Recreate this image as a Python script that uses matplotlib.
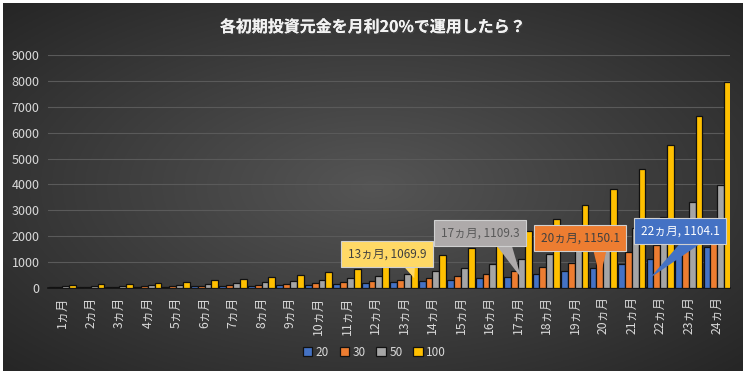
import numpy as np
import matplotlib.pyplot as plt
import matplotlib.patheffects as pe

plt.rcParams['font.family'] = ['Noto Sans CJK JP', 'DejaVu Sans']

months = ['%dヵ月' % m for m in range(1, 25)]

v20 = [24.0, 28.8, 34.6, 41.5, 49.8, 59.7, 71.7, 86.0, 103.2, 123.8, 148.6, 178.3,
       214.0, 256.8, 308.1, 369.8, 443.7, 532.5, 639.0, 766.8, 920.1, 1104.1, 1324.9, 1589.9]
v30 = [36.0, 43.2, 51.8, 62.2, 74.6, 89.6, 107.5, 129.0, 154.8, 185.8, 222.9, 267.5,
       321.0, 385.2, 462.2, 554.7, 665.6, 798.7, 958.4, 1150.1, 1380.2, 1656.2, 1987.4, 2384.9]
v50 = [60.0, 72.0, 86.4, 103.7, 124.4, 149.3, 179.2, 215.0, 258.0, 309.6, 371.5, 445.8,
       535.0, 642.0, 770.4, 924.4, 1109.3, 1331.2, 1597.4, 1916.9, 2300.3, 2760.3, 3312.4, 3974.8]
v100 = [120.0, 144.0, 172.8, 207.4, 248.8, 298.6, 358.3, 430.0, 516.0, 619.2, 743.0, 891.6,
        1069.9, 1283.9, 1540.7, 1848.8, 2218.6, 2662.3, 3194.8, 3833.8, 4600.5, 5520.6, 6624.7, 7949.7]

series = [('20', v20, '#4472C4'), ('30', v30, '#ED7D31'),
          ('50', v50, '#A5A5A5'), ('100', v100, '#FFC000')]

fig = plt.figure(figsize=(7.46, 3.74), dpi=100, facecolor='white')

# dark radial-gradient chart background
bg = fig.add_axes([3/746, 3/374, 740/746, 368/374])
gx, gy = np.meshgrid(np.linspace(-1, 1, 400), np.linspace(-1, 1, 200))
r = np.clip(np.sqrt(gx**2 + gy**2) / 1.41, 0, 1)
c0 = np.array([0x55, 0x55, 0x55]) / 255
c1 = np.array([0x26, 0x26, 0x26]) / 255
img = c0[None, None, :] * (1 - r[..., None]) + c1[None, None, :] * r[..., None]
bg.imshow(img, aspect='auto', extent=[0, 1, 0, 1])
bg.set_axis_off()

ax = fig.add_axes([48/746, 1 - 288/374, 682/746, 233/374])
ax.set_facecolor('none')
x = np.arange(len(months))
w = 0.24
for k, (name, vals, col) in enumerate(series):
    ax.bar(x + (k - 1.5) * w, vals, w, color=col, edgecolor='#111111',
           linewidth=0.9, label=name, zorder=3)

ax.set_xlim(-0.5, 23.45)
ax.set_ylim(0, 9000)
ax.set_yticks(range(0, 9001, 1000))
ax.grid(axis='y', color='#5a5a5a', linewidth=0.8, zorder=0)
ax.set_xticks(x)
ax.set_xticklabels(months, rotation=90, fontsize=8.8, color='#D9D9D9')
ax.tick_params(axis='y', labelsize=9, colors='#D9D9D9', length=0, pad=6)
ax.tick_params(axis='x', length=0, pad=6)
for s in ['top', 'right', 'left']:
    ax.spines[s].set_visible(False)
ax.spines['bottom'].set_color('#111111')
ax.spines['bottom'].set_linewidth(1.2)

fig.text(0.500, 1 - 27/374, '各初期投資元金を月利20%で運用したら？', ha='center', va='center',
         fontsize=11.5, fontweight='bold', color='#F2F2F2',
         path_effects=[pe.withSimplePatchShadow(offset=(1, -1), alpha=0.6), pe.Normal()])

# callouts: (series index, month index, text pos, box color, text color)
callouts = [(3, 12, (11.41, 1313), '#FFD966', '#404040'),
            (2, 16, (14.68, 2123), '#AEAAAA', '#595959'),
            (1, 19, (18.19, 1930), '#ED7D31', '#404040'),
            (0, 21, (21.70, 2200), '#4472C4', 'white')]
for si, mi, tpos, bc, tc in callouts:
    vals = series[si][1]
    bx = mi + (si - 1.5) * w
    ax.annotate('%dヵ月, %.1f' % (mi + 1, vals[mi]), xy=(bx, vals[mi] * 0.35), xytext=tpos,
                ha='center', va='center', fontsize=8.5, color=tc, zorder=6,
                bbox=dict(boxstyle='square,pad=0.55', fc=bc, ec='#D0D0D0', lw=0.8),
                arrowprops=dict(arrowstyle='wedge,tail_width=1.4', fc=bc, ec='none',
                                relpos=(0.75, 0.3), patchA=None, shrinkB=0))

leg = fig.legend(loc='center', bbox_to_anchor=(0.502, 1 - 352/374), ncol=4, frameon=False,
                 fontsize=8.5, handlelength=0.8, handleheight=0.8, handletextpad=0.3,
                 columnspacing=0.9)
for t in leg.get_texts():
    t.set_color('#D9D9D9')

fig.savefig('out.png', dpi=100, facecolor='white')
